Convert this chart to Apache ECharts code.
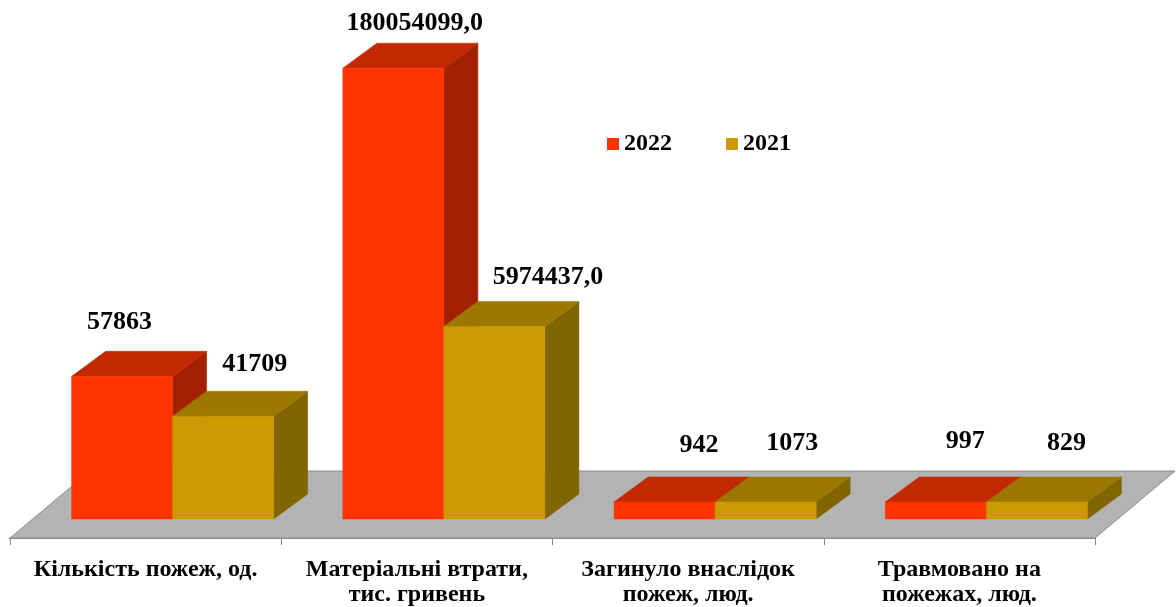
<!DOCTYPE html>
<html>
<head>
<meta charset="utf-8">
<script src="https://cdn.jsdelivr.net/npm/echarts@6/dist/echarts.min.js"></script>
<style>
html,body{margin:0;padding:0;background:#fff;}
#chart{width:1176px;height:607px;}
</style>
</head>
<body>
<div id="chart"></div>
<script>
// ---- data ----
const categories = ['Кількість пожеж, од.', 'Матеріальні втрати,\nтис. гривень', 'Загинуло внаслідок\nпожеж, люд.', 'Травмовано на\nпожежах, люд.'];
const seriesNames = ['2022', '2021'];
const values2022 = [57863, 180054099.0, 942, 997];
const values2021 = [41709, 5974437.0, 1073, 829];
const labels2022 = ['57863', '180054099,0', '942', '997'];
const labels2021 = ['41709', '5974437,0', '1073', '829'];
// bar heights as they are drawn in the source picture (its bars are not to the scale of their labels)
const heights2022 = [57863, 182900, 6900, 6900];
const heights2021 = [41709, 78100, 6900, 6900];

// ---- style ----
const FONT = '"Liberation Serif", "Times New Roman", serif';
const faces = [
  { front: '#FF3300', top: '#C22900', side: '#A32000' },
  { front: '#CC9900', top: '#9C7800', side: '#806500' }
];
// label centre offsets relative to (front-face centre, back edge of top face)
const labelShift = [
  [[0, -29], [24, -20], [37, -32], [32, -36]],
  [[34, -27], [56, -24], [29, -34], [32, -34]]
];
const DEPTH_X = 34, DEPTH_Y = -25;   // bar depth
const SHIFT_X = 27, SHIFT_Y = -19;   // bars stand back from the floor front edge
const FLOOR_X = 80, FLOOR_Y = -67;   // floor depth

function barRenderer(s, labels) {
  return function (params, api) {
    const cat = api.value(0), h = api.value(1);
    const base = api.coord([cat, 0]);
    const top = api.coord([cat, h]);
    const band = api.size([1, 0])[0];
    const bw = band * 0.3725;
    const x0 = base[0] + SHIFT_X - bw + s * bw;
    const yb = base[1] + SHIFT_Y, yt = top[1] + SHIFT_Y;
    const c = faces[s];
    const off = labelShift[s][params.dataIndex];
    return {
      type: 'group',
      children: [
        { type: 'polygon', shape: { points: [[x0 + bw, yt], [x0 + bw + DEPTH_X, yt + DEPTH_Y], [x0 + bw + DEPTH_X, yb + DEPTH_Y], [x0 + bw, yb]] },
          style: { fill: c.side, stroke: c.side, lineWidth: 0.5 } },
        { type: 'polygon', shape: { points: [[x0, yt], [x0 + bw, yt], [x0 + bw + DEPTH_X, yt + DEPTH_Y], [x0 + DEPTH_X, yt + DEPTH_Y]] },
          style: { fill: c.top, stroke: c.top, lineWidth: 0.5 } },
        { type: 'rect', shape: { x: x0, y: yt, width: bw, height: yb - yt },
          style: { fill: c.front, stroke: c.front, lineWidth: 0.5 } },
        { type: 'text', x: x0 + bw / 2 + off[0] - 2.5, y: yt + DEPTH_Y + off[1],
          style: { text: labels[params.dataIndex], font: 'bold 26px ' + FONT, fill: '#000', align: 'center', verticalAlign: 'middle' } }
      ]
    };
  };
}

function floorRenderer(params, api) {
  const cs = params.coordSys;
  const yF = cs.y + cs.height;
  return {
    type: 'polygon',
    shape: { points: [[cs.x, yF], [cs.x + cs.width, yF], [cs.x + cs.width + FLOOR_X, yF + FLOOR_Y], [cs.x + FLOOR_X, yF + FLOOR_Y]] },
    style: { fill: '#B3B3B3', stroke: '#8C8C8C', lineWidth: 1 }
  };
}

const chart = echarts.init(document.getElementById('chart'), null, { renderer: 'canvas' });
chart.setOption({
  animation: false,
  backgroundColor: '#ffffff',
  grid: { left: 10, right: 81, top: 45, bottom: 68, containLabel: false },
  legend: {
    data: seriesNames,
    left: 607, top: 132, padding: 0,
    icon: 'rect', itemWidth: 12, itemHeight: 12, itemGap: 54,
    textStyle: { fontFamily: FONT, fontWeight: 'bold', fontSize: 24, color: '#000' }
  },
  xAxis: {
    type: 'category', data: categories,
    axisLine: { lineStyle: { color: '#8A8A8A', width: 2 } },
    axisTick: { show: true, length: 7, lineStyle: { color: '#8A8A8A', width: 1 } },
    axisLabel: { interval: 0, fontFamily: FONT, fontWeight: 'bold', fontSize: 24, color: '#000', lineHeight: 25, margin: 19 }
  },
  yAxis: { type: 'value', min: 0, max: 200000, show: false },
  series: [
    { type: 'custom', name: 'floor', renderItem: floorRenderer, data: [[0, 0]], encode: { x: 0, y: 1 }, silent: true, z: 1 },
    { type: 'custom', name: seriesNames[0], itemStyle: { color: faces[0].front }, renderItem: barRenderer(0, labels2022),
      data: heights2022.map((h, i) => [i, h]), encode: { x: 0, y: 1 }, z: 2 },
    { type: 'custom', name: seriesNames[1], itemStyle: { color: faces[1].front }, renderItem: barRenderer(1, labels2021),
      data: heights2021.map((h, i) => [i, h]), encode: { x: 0, y: 1 }, z: 3 }
  ]
});
</script>
</body>
</html>
